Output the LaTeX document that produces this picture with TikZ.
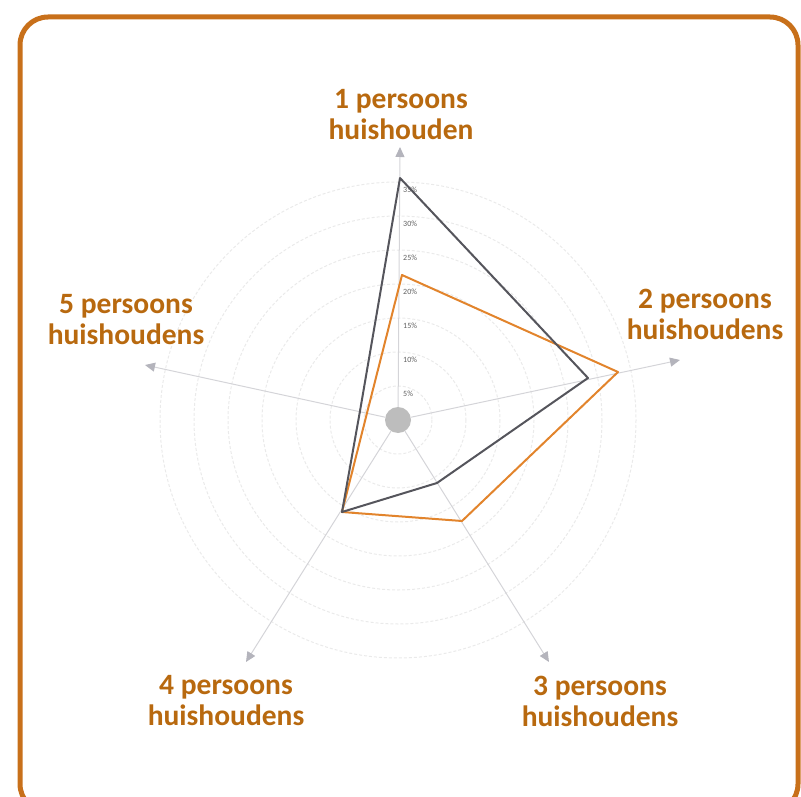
\documentclass[tikz,border=0pt]{standalone}
\usepackage{fontspec}
\setmainfont{Carlito}
\usetikzlibrary{arrows.meta}

\definecolor{frameorange}{HTML}{C8701A}
\definecolor{labelorange}{HTML}{B8690F}
\definecolor{lineorange}{HTML}{E2842C}
\definecolor{linegray}{HTML}{55555C}
\definecolor{axisgray}{HTML}{D4D4D8}
\definecolor{tipgray}{HTML}{B4B4BC}
\definecolor{ringgray}{HTML}{EAEAEA}
\definecolor{discgray}{HTML}{BDBDBD}
\definecolor{tickgray}{HTML}{606060}

\tikzset{
  catlabel/.style={font=\fontsize{29.5}{31}\selectfont\bfseries, text=labelorange, align=center},
  axisline/.style={axisgray, line width=1pt, -{Triangle[length=10pt,width=9pt,color=tipgray]}},
  ringline/.style={ringgray, line width=1pt, dash pattern=on 3pt off 2pt},
  ticklabel/.style={font=\fontsize{8}{9}\selectfont, text=tickgray, anchor=west, inner sep=0pt},
  seriesline/.style={line width=2pt, line join=round}
}

\begin{document}
\begin{tikzpicture}[x=1pt, y=-1pt]
    \useasboundingbox (0,0) rectangle (801,797);
    \clip (0,0) rectangle (801,797);

    % frame
    \draw[frameorange, line width=5pt, rounded corners=28pt] (20,17) rectangle (798,812);

    % rings
    \foreach \k in {1,...,7}
        \draw[ringline] (398,420) circle (34*\k);

    % centre and axis ends
    \node[circle, fill=discgray, minimum size=26pt, inner sep=0pt] (c) at (398,420) {};
    \coordinate (a1) at (400,147);
    \coordinate (a2) at (680,360);
    \coordinate (a3) at (549,662);
    \coordinate (a4) at (246,662);
    \coordinate (a5) at (145,365);

    \foreach \i in {1,...,5}
        \draw[axisline] (c) -- (a\i);

    % scale
    \foreach \k/\v in {1/5,2/10,3/15,4/20,5/25,6/30,7/35}
        \node[ticklabel] (t\k) at (403,428-34*\k) {\v\%};

    % series points
    \coordinate (p1) at (400,178);
    \coordinate (p2) at (588,378);
    \coordinate (p3) at (437,483);
    \coordinate (p4) at (342,512);
    \coordinate (p5) at (360,411);

    \coordinate (q1) at (402,275);
    \coordinate (q2) at (618,372);
    \coordinate (q3) at (462,521);
    \coordinate (q4) at (342,512);
    \coordinate (q5) at (367,413);

    \draw[seriesline, lineorange] (q1) -- (q2) -- (q3) -- (q4) -- (q5) -- cycle;
    \draw[seriesline, linegray] (p1) -- (p2) -- (p3) -- (p4) -- (p5) -- cycle;

    % categories
    \node[catlabel] (n1) at (401,115) {1 persoons\\huishouden};
    \node[catlabel] (n2) at (705,314) {2 persoons\\huishoudens};
    \node[catlabel] (n3) at (600,701) {3 persoons\\huishoudens};
    \node[catlabel] (n4) at (226,701) {4 persoons\\huishoudens};
    \node[catlabel] (n5) at (126,320) {5 persoons\\huishoudens};
\end{tikzpicture}
\end{document}
